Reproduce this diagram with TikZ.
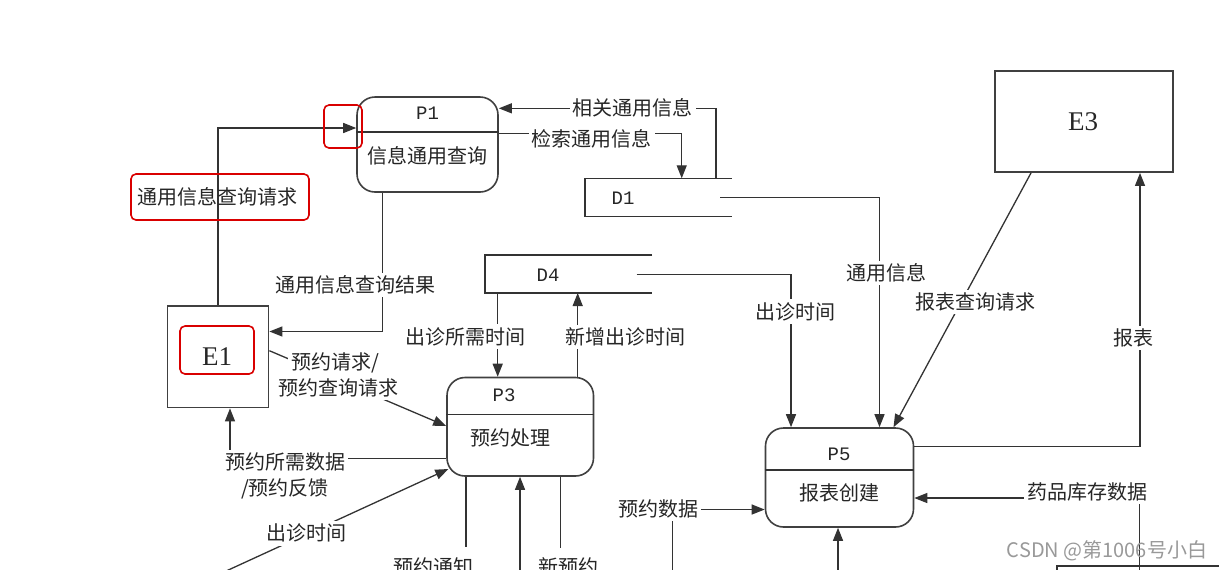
\documentclass[tikz,border=0pt]{standalone}
\usepackage{fontspec}
\newfontfamily\cjkfont{Noto Sans CJK SC}
\newfontfamily\monofont{Liberation Mono}
\newfontfamily\entfont{Liberation Serif}
\usetikzlibrary{arrows.meta,fit}
\begin{document}
\begin{tikzpicture}[x=0.5pt,y=-0.5pt,
  flow/.style={draw=black!80, line width=0.65pt},
  arr/.style={flow, -{Triangle[length=6.5pt,width=5pt]}},
  lbl/.style={font=\cjkfont\fontsize{10pt}{12.8pt}\selectfont, text=black!85, inner sep=1.5pt, align=center},
  lblw/.style={lbl, fill=white},
  proc/.style={draw=black!75, line width=0.8pt, rounded corners=9pt, inner sep=0pt},
  ent/.style={draw=black!75, line width=0.9pt, inner sep=0pt},
  store/.style={draw=black!80, line width=0.7pt},
  redbox/.style={draw=red!85!black, line width=0.8pt, rounded corners=2.5pt},
  pid/.style={font=\monofont\fontsize{9.5pt}{11pt}\selectfont, text=black!85},
  eid/.style={font=\entfont\fontsize{13.5pt}{15pt}\selectfont, text=black!85},
  wm/.style={font=\cjkfont\fontsize{10pt}{12pt}\selectfont, text=black!40, inner sep=0pt},
]
\fill[white] (0,0) rectangle (1219,569);
\useasboundingbox (0,0) rectangle (1219,569);

% ---------- boxes ----------
\node[proc, fit={(357,97) (498,192)}] (P1) {};
\draw[store] (P1.west |- 0,132) -- (P1.east |- 0,132);
\node[pid] (P1id) at (427.5,113.5) {P1};
\node[lbl] (P1name) at (427.5,156) {信息通用查询};

\node[proc, fit={(447,377.5) (593.5,476)}] (P3) {};
\draw[store] (P3.west |- 0,414.5) -- (P3.east |- 0,414.5);
\node[pid] (P3id) at (504,395) {P3};
\node[lbl] (P3name) at (510,438) {预约处理};

\node[proc, fit={(765.5,428) (913.5,527)}] (P5) {};
\draw[store] (P5.west |- 0,470) -- (P5.east |- 0,470);
\node[pid] (P5id) at (839,454) {P5};
\node[lbl] (P5name) at (839.5,493) {报表创建};

\node[ent, fit={(167.5,306) (268.5,407.5)}] (E1) {};
\node[eid] (E1id) at (217,357) {E1};

\node[ent, fit={(995,71) (1173,172)}] (E3) {};
\node[eid] (E3id) at (1083,122) {E3};

% data stores
\draw[store] (731.7,178.3) -- (585,178.3) -- (585,216.7) -- (731.7,216.7);
\node[pid] (D1) at (623,198) {D1};
\draw[store] (652,255) -- (485,255) -- (485,293) -- (652,293);
\node[pid] (D4) at (548,275) {D4};
\coordinate (D1top) at (0,178.3);
\coordinate (D4bot) at (0,293);

% bottom-right cut-off box
\draw[store] (1057,590) -- (1057,566) -- (1230,566);

% ---------- connectors ----------
% E1 -> P1
\draw[arr] (E1.north) |- (P1.west |- 0,128);
% P1 -> E1
\coordinate (c1) at (382.5,331.5);
\draw[arr] (P1.south -| c1) -- (c1) -- (E1.east |- c1);
% D1 -> P1
\coordinate (c2) at (716,108.3);
\draw[arr] (c2 |- D1top) -- (c2) -- (P1.east |- c2);
% P1 -> D1
\coordinate (c3) at (681.7,133.5);
\draw[arr] (P1.east |- c3) -- (c3) -- (c3 |- D1top);
% D1 -> P5
\coordinate (c4) at (879.5,197.5);
\draw[arr] (720,197.5) -- (c4) -- (P5.north -| c4);
% E3 -> P5
\draw[arr] (E3.south -| 1031,0) -- (P5.north -| 893.5,0);
% P5 -> E3
\coordinate (c5) at (1140,446.7);
\draw[arr] (P5.east |- c5) -- (c5) -- (E3.south -| c5);
% stock data -> P5
\coordinate (c6) at (1139.5,498);
\draw[arr] (1139.5,600) -- (c6) -- (P5.east |- c6);
% booking data -> P5
\coordinate (c7) at (672.5,509.5);
\draw[arr] (672.5,600) -- (c7) -- (P5.west |- c7);
% bottom -> P5
\draw[arr] (838,600) -- (P5.south -| 838,0);
% D4 -> P5
\coordinate (c8) at (791,274.5);
\draw[arr] (636.7,274.5) -- (c8) -- (P5.north -| c8);
% D4 -> P3
\draw[arr] (497.7,0 |- D4bot) -- (P3.north -| 497.7,0);
% P3 -> D4
\draw[arr] (P3.north -| 577.7,0) -- (577.7,0 |- D4bot);
% E1 -> P3
\draw[arr] (E1.east |- 0,350.7) -- (P3.west |- 0,426);
% P3 -> E1
\coordinate (c9) at (230,458.3);
\draw[arr] (P3.west |- c9) -- (c9) -- (E1.south -| c9);
% visit time -> P3
\coordinate (c10) at (200,583);
\draw[arr] (c10) -- (448.3,469);
% P3 bottom lines
\draw[flow] (P3.south -| 466,0) -- (466,547);
\draw[arr] (520,600) -- (P3.south -| 520,0);
\draw[flow] (P3.south -| 560.5,0) -- (560.5,548);

% ---------- labels ----------
\node[lbl] (L1) at (217.5,197) {通用信息查询请求};
\node[lblw] (L2) at (355,285) {通用信息查询结果};
\node[lblw] (L3) at (632.5,108) {相关通用信息};
\node[lblw] (L4) at (591.7,139) {检索通用信息};
\node[lblw] (L5) at (886,273) {通用信息};
\node[lblw] (L6) at (975,302) {报表查询请求};
\node[lblw] (L7) at (1133,338) {报表};
\node[lblw] (L8) at (1087,492) {药品库存数据};
\node[lblw] (L9) at (658,509) {预约数据};
\node[lblw] (L10) at (795.7,311.7) {出诊时间};
\node[lblw] (L11) at (465,336.7) {出诊所需时间};
\node[lblw] (L12) at (625,337) {新增出诊时间};
\node[lblw] (L13a) at (335,363) {预约请求/};
\node[lblw] (L13b) at (338,388) {预约查询请求};
\node[lblw] (L14) at (285,476) {预约所需数据\\/预约反馈};
\node[lblw] (L15) at (306.7,533.3) {出诊时间};
\node[lbl] (L16) at (433,567) {预约通知};
\node[lbl] (L17) at (568,567) {新预约};

% ---------- red annotation boxes ----------
\draw[redbox] (324,105) rectangle (362,148);
\draw[redbox] (131,174) rectangle (309,220);
\draw[redbox] (180,326) rectangle (254,374);

% watermark
\node[wm] (WM) at (1107,551) {CSDN @第1006号小白};
\end{tikzpicture}
\end{document}
